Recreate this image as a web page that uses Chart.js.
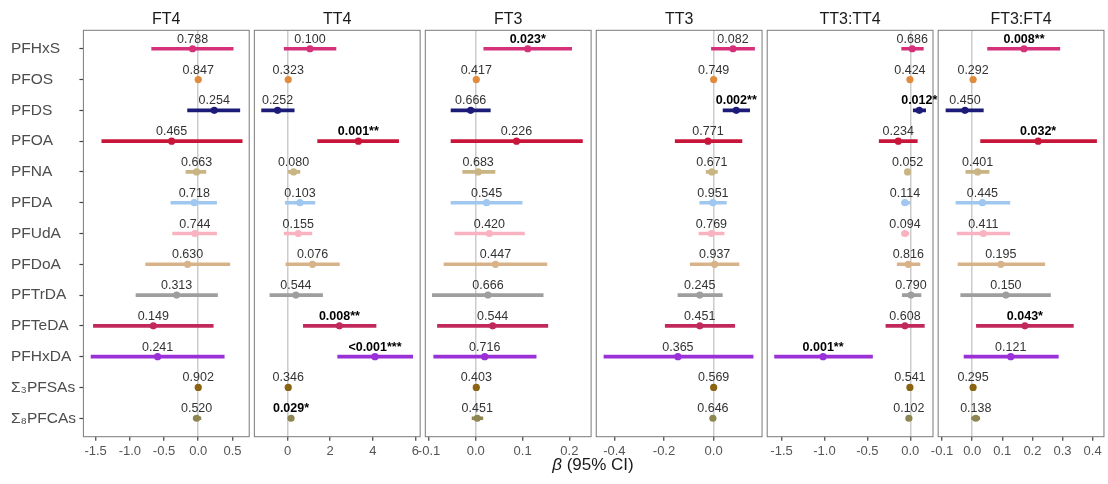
<!DOCTYPE html>
<html>
<head>
<meta charset="utf-8">
<script src="https://cdn.jsdelivr.net/npm/chart.js@4.4.1/dist/chart.umd.min.js"></script>
<style>
  html, body { margin: 0; padding: 0; background: #fff; }
  #wrap { position: relative; width: 1108px; height: 484px; }
  #wrap canvas { position: absolute; left: 0; top: 0; }
</style>
</head>
<body>
<div id="wrap"></div>
<script>
// rows, top to bottom
const compounds = ['PFHxS', 'PFOS', 'PFDS', 'PFOA', 'PFNA', 'PFDA', 'PFUdA', 'PFDoA', 'PFTrDA', 'PFTeDA', 'PFHxDA', 'Σ₃PFSAs', 'Σ₈PFCAs'];
const compoundColors = ['#d6307a', '#e08b3e', '#1c1c78', '#c8163a', '#c9b483', '#9fc7ef', '#f9b3c0',
  '#d8b38a', '#9e9e9e', '#c2285c', '#9a30d8', '#8a6410', '#8d8652'];

const outcomes = ['FT4', 'TT4', 'FT3', 'TT3', 'TT3:TT4', 'FT3:FT4'];

// beta estimates, 95% CI bounds and p-values per outcome
const ft4Beta = [-0.083, 0.0, 0.234, -0.389, -0.024, -0.058, -0.049, -0.156, -0.316, -0.657, -0.594, 0.0, -0.024];
const ft4Low  = [-0.681, -0.015, -0.156, -1.41, -0.18, -0.40, -0.375, -0.769, -0.91, -1.533, -1.567, -0.015, -0.073];
const ft4High = [0.511, 0.015, 0.608, 0.642, 0.112, 0.268, 0.268, 0.462, 0.282, 0.219, 0.380, 0.015, 0.039];
const ft4P    = ['0.788', '0.847', '0.254', '0.465', '0.663', '0.718', '0.744', '0.630', '0.313', '0.149', '0.241', '0.902', '0.520'];

const tt4Beta = [1.05, 0.03, -0.47, 3.32, 0.28, 0.58, 0.50, 1.17, 0.39, 2.43, 4.10, 0.03, 0.16];
const tt4Low  = [-0.16, 0.0, -1.22, 1.41, 0.03, -0.11, -0.16, -0.08, -0.83, 0.74, 2.35, 0.0, 0.12];
const tt4High = [2.27, 0.06, 0.31, 5.21, 0.58, 1.28, 1.14, 2.43, 1.64, 4.15, 5.87, 0.06, 0.20];
const tt4P    = ['0.100', '0.323', '0.252', '0.001**', '0.080', '0.103', '0.155', '0.076', '0.544', '0.008**', '<0.001***', '0.346', '0.029*'];

const ft3Beta = [0.111, 0.001, -0.011, 0.087, 0.005, 0.023, 0.029, 0.042, 0.026, 0.036, 0.019, 0.001, 0.003];
const ft3Low  = [0.017, 0.0, -0.053, -0.053, -0.028, -0.053, -0.045, -0.068, -0.093, -0.082, -0.090, 0.0, -0.008];
const ft3High = [0.205, 0.002, 0.031, 0.228, 0.041, 0.099, 0.104, 0.152, 0.144, 0.154, 0.129, 0.002, 0.015];
const ft3P    = ['0.023*', '0.417', '0.666', '0.226', '0.683', '0.545', '0.420', '0.447', '0.666', '0.544', '0.716', '0.403', '0.451'];

const tt3Beta = [0.078, 0.0, 0.091, -0.023, -0.007, -0.003, -0.009, 0.004, -0.056, -0.056, -0.144, 0.0, -0.003];
const tt3Low  = [-0.009, -0.003, 0.038, -0.155, -0.03, -0.056, -0.059, -0.094, -0.144, -0.195, -0.442, -0.003, -0.006];
const tt3High = [0.165, 0.003, 0.145, 0.114, 0.015, 0.051, 0.042, 0.102, 0.035, 0.085, 0.159, 0.003, 0.0];
const tt3P    = ['0.082', '0.749', '0.002**', '0.771', '0.671', '0.951', '0.769', '0.937', '0.245', '0.451', '0.365', '0.569', '0.646'];

const t3t4Beta = [0.023, -0.004, 0.105, -0.14, -0.031, -0.062, -0.062, -0.023, 0.008, -0.062, -1.016, -0.004, -0.016];
const t3t4Low  = [-0.10, -0.012, 0.035, -0.362, -0.055, -0.10, -0.10, -0.152, -0.093, -0.284, -1.581, -0.012, -0.024];
const t3t4High = [0.152, 0.004, 0.179, 0.082, -0.004, -0.004, -0.016, 0.113, 0.125, 0.164, -0.44, 0.004, -0.008];
const t3t4P    = ['0.686', '0.424', '0.012*', '0.234', '0.052', '0.114', '0.094', '0.816', '0.790', '0.608', '0.001**', '0.541', '0.102'];

const f3f4Beta = [0.172, 0.003, -0.024, 0.219, 0.018, 0.034, 0.037, 0.095, 0.112, 0.175, 0.128, 0.003, 0.012];
const f3f4Low  = [0.051, 0.0, -0.087, 0.028, -0.021, -0.054, -0.050, -0.047, -0.038, 0.014, -0.027, 0.0, -0.002];
const f3f4High = [0.291, 0.006, 0.037, 0.413, 0.056, 0.125, 0.125, 0.241, 0.260, 0.336, 0.286, 0.006, 0.025];
const f3f4P    = ['0.008**', '0.292', '0.450', '0.032*', '0.401', '0.445', '0.411', '0.195', '0.150', '0.043*', '0.121', '0.295', '0.138'];

// x-axis tick values per outcome
const ft4Ticks  = [-1.5, -1.0, -0.5, 0, 0.5];
const tt4Ticks  = [0, 2, 4, 6];
const ft3Ticks  = [-0.1, 0, 0.1, 0.2];
const tt3Ticks  = [-0.4, -0.2, 0];
const t3t4Ticks = [-1.5, -1.0, -0.5, 0];
const f3f4Ticks = [-0.1, 0, 0.1, 0.2, 0.3, 0.4];

const FONT = "'Liberation Sans', Arial, sans-serif";
const W = 1108, H = 484;
const TOP = 30.3, BOTTOM = 436.7;
const LABEL_X = 11;

const panels = [
  { beta: ft4Beta,  low: ft4Low,  high: ft4High,  p: ft4P,  ticks: ft4Ticks,  dec: 1, min: -1.679, max: 0.745 },
  { beta: tt4Beta,  low: tt4Low,  high: tt4High,  p: tt4P,  ticks: tt4Ticks,  dec: 0, min: -1.56,  max: 6.22 },
  { beta: ft3Beta,  low: ft3Low,  high: ft3High,  p: ft3P,  ticks: ft3Ticks,  dec: 1, min: -0.108, max: 0.2465 },
  { beta: tt3Beta,  low: tt3Low,  high: tt3High,  p: tt3P,  ticks: tt3Ticks,  dec: 1, min: -0.473, max: 0.195 },
  { beta: t3t4Beta, low: t3t4Low, high: t3t4High, p: t3t4P, ticks: t3t4Ticks, dec: 1, min: -1.667, max: 0.265 },
  { beta: f3f4Beta, low: f3f4Low, high: f3f4High, p: f3f4P, ticks: f3f4Ticks, dec: 1, min: -0.113, max: 0.4375 }
];

// panel frame, title and p-value labels
const panelDecor = {
  id: 'panelDecor',
  beforeDatasetsDraw(chart) {
    const { ctx, chartArea: a } = chart;
    ctx.save();
    ctx.strokeStyle = '#7a7a7a';
    ctx.lineWidth = 1;
    ctx.strokeRect(a.left, a.top, a.right - a.left, a.bottom - a.top);
    ctx.restore();
  },
  afterDatasetsDraw(chart) {
    const { ctx, chartArea: a } = chart;
    const cfg = chart.options.plugins.panelDecor;
    const xs = chart.scales.x, ys = chart.scales.y;
    ctx.save();
    ctx.textAlign = 'center';
    ctx.textBaseline = 'alphabetic';
    ctx.fillStyle = '#1a1a1a';
    ctx.font = '16px ' + FONT;
    ctx.fillText(cfg.title, (a.left + a.right) / 2, 23.5);
    cfg.p.forEach((txt, i) => {
      const sig = txt.indexOf('*') >= 0;
      ctx.font = (sig ? 'bold ' : '') + '12.5px ' + FONT;
      ctx.fillStyle = sig ? '#000' : '#333';
      ctx.fillText(txt, xs.getPixelForValue(cfg.beta[i]), ys.getPixelForValue(i) - 6);
    });
    if (cfg.axisTitle) {
      ctx.fillStyle = '#1a1a1a';
      ctx.font = 'italic 17px ' + FONT;
      const t1 = 'β', t2 = ' (95% CI)';
      const w1 = ctx.measureText(t1).width;
      ctx.font = '17px ' + FONT;
      const w2 = ctx.measureText(t2).width;
      const x0 = 593 - (w1 + w2) / 2;
      ctx.textAlign = 'left';
      ctx.font = 'italic 17px ' + FONT;
      ctx.fillText(t1, x0, 470);
      ctx.font = '17px ' + FONT;
      ctx.fillText(t2, x0 + w1, 470);
    }
    ctx.restore();
  }
};

const wrap = document.getElementById('wrap');
panels.forEach((pn, k) => {
  const left = 83.4 + k * 170.95;
  const right = left + 165.8;
  const canvas = document.createElement('canvas');
  canvas.width = W; canvas.height = H;
  wrap.appendChild(canvas);
  const first = k === 0;

  new Chart(canvas.getContext('2d'), {
    type: 'bar',
    data: {
      datasets: [
        {
          type: 'scatter',
          order: 0,
          data: pn.beta.map((b, i) => ({ x: b, y: i })),
          pointRadius: 3.6,
          pointBorderWidth: 0,
          pointBackgroundColor: compoundColors,
          pointHoverRadius: 3.6
        },
        {
          type: 'bar',
          order: 1,
          indexAxis: 'y',
          data: pn.low.map((l, i) => ({ x: [l, pn.high[i]], y: i })),
          backgroundColor: compoundColors,
          borderWidth: 0,
          borderSkipped: false,
          barThickness: 3
        }
      ]
    },
    options: {
      responsive: false,
      animation: false,
      devicePixelRatio: 1,
      indexAxis: 'y',
      layout: { padding: { left: first ? LABEL_X : left, right: W - right, top: TOP, bottom: 0 } },
      plugins: {
        legend: { display: false },
        tooltip: { enabled: false },
        panelDecor: { title: outcomes[k], p: pn.p, beta: pn.beta, axisTitle: k === 3 }
      },
      scales: {
        x: {
          type: 'linear',
          min: pn.min,
          max: pn.max,
          offset: false,
          afterBuildTicks: s => { s.ticks = pn.ticks.map(v => ({ value: v })); },
          afterFit: s => { s.height = H - BOTTOM; },
          border: { display: false },
          grid: {
            offset: false,
            color: c => (c.tick && Math.abs(c.tick.value) < 1e-9) ? '#cccccc' : 'rgba(0,0,0,0)',
            lineWidth: 1.5,
            drawTicks: true,
            tickLength: 4,
            tickColor: '#444',
            tickWidth: 1.2
          },
          ticks: {
            padding: 3,
            color: '#555',
            font: { family: FONT, size: 13 },
            maxRotation: 0,
            autoSkip: false,
            callback: v => v.toFixed(pn.dec)
          }
        },
        y: {
          type: 'linear',
          reverse: true,
          min: -0.6,
          max: 12.6,
          offset: false,
          display: first,
          afterBuildTicks: s => { s.ticks = compounds.map((c, i) => ({ value: i })); },
          afterFit: s => { if (first) s.width = left - LABEL_X; },
          border: { display: false },
          grid: {
            offset: false,
            drawOnChartArea: false,
            drawTicks: true,
            tickLength: 4,
            tickColor: '#444',
            tickWidth: 1.2
          },
          ticks: {
            padding: 7,
            crossAlign: 'far',
            color: '#4d4d4d',
            font: { family: FONT, size: 15.5 },
            autoSkip: false,
            callback: v => compounds[v]
          }
        }
      }
    },
    plugins: [panelDecor]
  });
});
</script>
</body>
</html>
